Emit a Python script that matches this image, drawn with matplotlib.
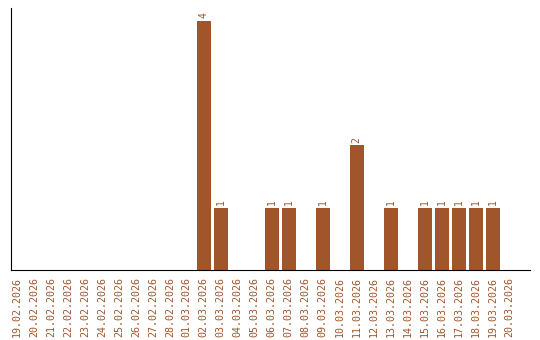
import matplotlib
matplotlib.use('Agg')
import matplotlib.pyplot as plt

dates = ['19.02.2026', '20.02.2026', '21.02.2026', '22.02.2026', '23.02.2026',
         '24.02.2026', '25.02.2026', '26.02.2026', '27.02.2026', '28.02.2026',
         '01.03.2026', '02.03.2026', '03.03.2026', '04.03.2026', '05.03.2026',
         '06.03.2026', '07.03.2026', '08.03.2026', '09.03.2026', '10.03.2026',
         '11.03.2026', '12.03.2026', '13.03.2026', '14.03.2026', '15.03.2026',
         '16.03.2026', '17.03.2026', '18.03.2026', '19.03.2026', '20.03.2026']
counts = [0, 0, 0, 0, 0, 0, 0, 0, 0, 0,
          0, 4, 1, 0, 0, 1, 1, 0, 1, 0,
          2, 0, 1, 0, 1, 1, 1, 1, 1, 0]

col = '#a0562a'

fig = plt.figure(figsize=(5.4, 3.4), dpi=100)
ax = fig.add_axes([0.0204, 0.206, 0.961, 0.77])

x = range(len(dates))
bars = ax.bar(x, counts, width=0.82, color=col)
for xi, c in zip(x, counts):
    if c > 0:
        ax.text(xi, c + 0.04, str(c), rotation=90, ha='center', va='bottom',
                color=col, fontsize=7, family='DejaVu Sans Mono')

ax.set_xlim(-0.35, 30.2)
ax.set_ylim(0, 4.2)
ax.set_xticks(list(x))
ax.set_xticklabels(dates, rotation=90, color=col, fontsize=7.2,
                   family='DejaVu Sans Mono')
ax.tick_params(axis='x', length=0, pad=5)
ax.set_yticks([])
ax.spines['top'].set_visible(False)
ax.spines['right'].set_visible(False)

fig.savefig('out.png', dpi=100)
